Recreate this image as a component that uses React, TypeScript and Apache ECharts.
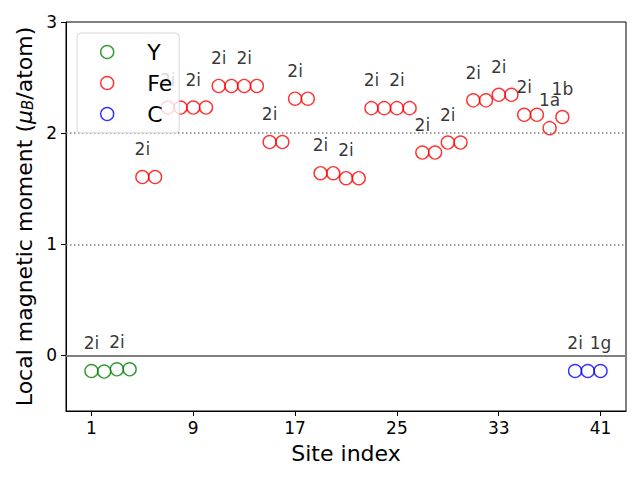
import React, { useEffect, useRef } from "react";
import * as echarts from "echarts";

const FONT = "DejaVu Sans";

// Y sites
const ySites = [1, 2, 3, 4];
const yMoments = [-0.14, -0.145, -0.125, -0.125];

// Fe sites
const feSites = [
  5, 6, 7, 8, 9, 10, 11, 12, 13, 14, 15, 16, 17, 18, 19, 20, 21,
  22, 23, 24, 25, 26, 27, 28, 29, 30, 31, 32, 33, 34, 35, 36, 37, 38,
];
const feMoments = [
  1.605, 1.605, 2.23, 2.23, 2.23, 2.23, 2.425, 2.425, 2.425, 2.425, 1.92, 1.92,
  2.31, 2.31, 1.64, 1.64, 1.595, 1.595, 2.225, 2.225, 2.225, 2.225, 1.825, 1.825,
  1.915, 1.915, 2.295, 2.295, 2.345, 2.345, 2.165, 2.165, 2.045, 2.145,
];

// C sites
const cSites = [39, 40, 41];
const cMoments = [-0.14, -0.14, -0.14];

// Wyckoff labels
const labelSites = [1, 3, 5, 7, 9, 11, 13, 15, 17, 19, 21, 23, 25, 27, 29, 31, 33, 35, 37, 38, 39, 41];
const labelTexts = [
  "2i", "2i", "2i", "2i", "2i", "2i", "2i", "2i", "2i", "2i", "2i",
  "2i", "2i", "2i", "2i", "2i", "2i", "2i", "1a", "1b", "2i", "1g",
];
const labelOffset = 0.25;

const xTicks = [1, 9, 17, 25, 33, 41];
const yTicks = [0, 1, 2, 3];
const refLines = [0, 1, 2];

const allSites = [...ySites, ...feSites, ...cSites];
const allMoments = [...yMoments, ...feMoments, ...cMoments];

function pairs(xs: number[], ys: number[]) {
  return xs.map((x, i) => [x, ys[i]]);
}

export default function App() {
  const ref = useRef<HTMLDivElement>(null);
  useEffect(() => {
    document.body.style.margin = "0";
    const chart = echarts.init(ref.current!, null, { renderer: "svg" });
    const hollow = (c: string) => ({ color: "rgba(0,0,0,0)", borderColor: c, borderWidth: 1.4 });
    const labelData = labelSites.map((s, i) => ({
      name: labelTexts[i],
      value: [s, allMoments[allSites.indexOf(s)] + labelOffset],
    }));
    chart.setOption({
      animation: false,
      textStyle: { fontFamily: FONT },
      grid: { left: 66, top: 22, right: 14, bottom: 69, show: true, borderColor: "#000", borderWidth: 1 },
      xAxis: {
        type: "value",
        min: -1,
        max: 43,
        name: "Site index",
        nameLocation: "middle",
        nameGap: 31,
        nameTextStyle: { fontSize: 22, color: "#000", fontFamily: FONT },
        axisLine: { onZero: false, lineStyle: { color: "#000", width: 1 } },
        axisTick: { show: true, length: 5, lineStyle: { color: "#000" }, customValues: xTicks },
        axisLabel: { fontSize: 17, color: "#000", margin: 8, customValues: xTicks, fontFamily: FONT },
        splitLine: { show: false },
      },
      yAxis: {
        type: "value",
        min: -0.5,
        max: 3,
        name: "{t|Local magnetic moment (}{mu|μ}{sub|B}{t|/atom)}",
        nameLocation: "middle",
        nameGap: 30,
        nameTextStyle: {
          fontSize: 22,
          color: "#000",
          fontFamily: FONT,
          rich: {
            t: { fontSize: 22, fontFamily: FONT, color: "#000", lineHeight: 22 },
            mu: { fontSize: 22, fontFamily: FONT, color: "#000", fontStyle: "italic", lineHeight: 22 },
            sub: {
              fontSize: 15,
              fontFamily: FONT,
              color: "#000",
              fontStyle: "italic",
              lineHeight: 15,
              verticalAlign: "bottom",
              padding: [12, 0, 0, 0],
            },
          },
        },
        axisLine: { onZero: false, lineStyle: { color: "#000", width: 1 } },
        axisTick: { show: true, length: 5, lineStyle: { color: "#000" }, customValues: yTicks },
        axisLabel: { fontSize: 17, color: "#000", margin: 9, customValues: yTicks, fontFamily: FONT },
        splitLine: { show: false },
      },
      legend: {
        orient: "vertical",
        left: 77,
        top: 33,
        padding: [8, 7, 8, 23],
        itemGap: 9,
        itemWidth: 26,
        itemHeight: 13,
        backgroundColor: "rgba(255,255,255,0.8)",
        borderColor: "rgba(204,204,204,0.8)",
        borderWidth: 1,
        borderRadius: 4,
        formatter: (name: string) => `{s|}{n|${name}}`,
        textStyle: {
          fontSize: 22,
          lineHeight: 22,
          color: "#000",
          fontFamily: FONT,
          rich: {
            s: { width: 22, fontSize: 22, lineHeight: 22 },
            n: { fontSize: 22, lineHeight: 22, color: "#000", fontFamily: FONT },
          },
        },
        data: [
          { name: "Y", icon: "circle", itemStyle: hollow("#008000") },
          { name: "Fe", icon: "circle", itemStyle: hollow("#ff0000") },
          { name: "C", icon: "circle", itemStyle: hollow("#0000ff") },
        ],
        selectedMode: false,
        z: 10,
      },
      series: [
        {
          name: "Y",
          type: "scatter",
          symbol: "circle",
          symbolSize: 13,
          itemStyle: hollow("#008000"),
          data: pairs(ySites, yMoments),
          z: 3,
          markLine: {
            silent: true,
            symbol: ["none", "none"],
            label: { show: false },
            data: refLines.map((v) => ({
              yAxis: v,
              lineStyle:
                v === 0
                  ? { type: "solid", color: "#808080", width: 2 }
                  : { type: [1.5, 2.5], color: "#808080", width: 1.5 },
            })),
          },
        },
        {
          name: "Fe",
          type: "scatter",
          symbol: "circle",
          symbolSize: 13,
          itemStyle: hollow("#ff0000"),
          data: pairs(feSites, feMoments),
          z: 3,
        },
        {
          name: "C",
          type: "scatter",
          symbol: "circle",
          symbolSize: 13,
          itemStyle: hollow("#0000ff"),
          data: pairs(cSites, cMoments),
          z: 3,
        },
        {
          name: "labels",
          type: "scatter",
          symbolSize: 0,
          itemStyle: { color: "rgba(0,0,0,0)" },
          data: labelData,
          z: 3,
          label: {
            show: true,
            position: "inside",
            formatter: "{b}",
            fontSize: 17,
            color: "#000",
            fontFamily: FONT,
          },
        },
      ],
    });
    return () => chart.dispose();
  }, []);
  return <div ref={ref} style={{ width: 640, height: 480 }} />;
}
